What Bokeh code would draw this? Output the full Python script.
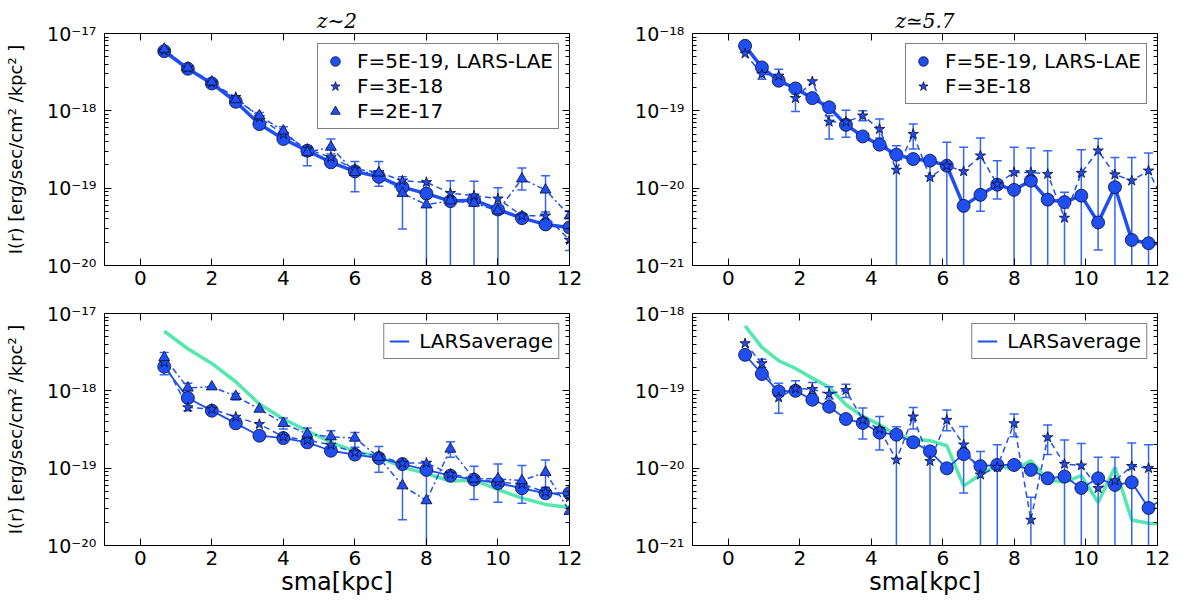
from bokeh.embed import file_html
from bokeh.layouts import column, row
from bokeh.models import (ColumnDataSource, CustomJSTickFormatter, FixedTicker, Legend,
                          LegendItem, LinearAxis, LogAxis, Range1d, SingleIntervalTicker)
from bokeh.plotting import figure
from bokeh.resources import INLINE

# radii (sma, kpc)
sma_z2 = [0.67, 1.33, 2.0, 2.67, 3.33, 4.0, 4.67, 5.33, 6.0, 6.67, 7.33, 8.0,
          8.67, 9.33, 10.0, 10.67, 11.33, 12.0]
sma_z57 = [0.47, 0.94, 1.41, 1.88, 2.35, 2.82, 3.29, 3.76, 4.23, 4.70, 5.17, 5.64,
           6.11, 6.58, 7.05, 7.52, 7.99, 8.46, 8.93, 9.40, 9.87, 10.34, 10.81, 11.28,
           11.75, 12.22]

# z~2, top panel
lae_z2 = [5.9e-18, 3.5e-18, 2.26e-18, 1.31e-18, 6.75e-19, 4.32e-19, 3.05e-19, 2.16e-19,
          1.65e-19, 1.4e-19, 1.03e-19, 8.5e-20, 6.8e-20, 7.0e-20, 5.3e-20, 4.1e-20,
          3.4e-20, 3.1e-20]
f3_z2 = [6.0e-18, 3.6e-18, 2.3e-18, 1.5e-18, 8.2e-19, 5.0e-19, 3.2e-19, 2.5e-19,
         1.77e-19, 1.6e-19, 1.25e-19, 1.19e-19, 8.6e-20, 8.0e-20, 7.3e-20, 4.4e-20,
         4.4e-20, 2.14e-20]
f2_z2 = [6.3e-18, 3.6e-18, 2.37e-18, 1.4e-18, 8.65e-19, 5.5e-19, 2.9e-19, 3.4e-19,
         1.6e-19, 1.58e-19, 8.6e-20, 6.1e-20, 6.9e-20, 6.4e-20, 5.1e-20, 1.32e-19,
         9.5e-20, 4.4e-20]
err_x_z2 = [3.33, 4.0, 4.67, 5.33, 6.0, 6.67, 7.33, 8.0, 8.67, 9.33, 10.0, 10.67, 11.33, 12.0]
err_lo_z2 = [7.45e-19, 4.77e-19, 1.95e-19, 2.77e-19, 9.0e-20, 1.06e-19, 2.97e-20, 0, 0, 0, 0,
             9.5e-20, 4.9e-20, 1.56e-20]
err_hi_z2 = [9.55e-19, 6.24e-19, 3.54e-19, 4.32e-19, 2.22e-19, 2.22e-19, 1.41e-19, 1.21e-19,
             1.25e-19, 1.23e-19, 1.01e-19, 1.82e-19, 1.45e-19, 5.1e-20]

# z~5.7, top panel
lae_z57 = [6.93e-19, 3.64e-19, 2.45e-19, 1.95e-19, 1.46e-19, 1.11e-19, 6.6e-20, 4.67e-20,
           3.65e-20, 2.71e-20, 2.38e-20, 2.27e-20, 1.95e-20, 5.9e-21, 8.2e-21, 1.11e-20,
           9.5e-21, 1.25e-20, 7.1e-21, 6.6e-21, 8.0e-21, 3.6e-21, 1.03e-20, 2.14e-21,
           1.94e-21, 1.9e-21]
f3_z57 = [5.5e-19, 2.98e-19, 2.84e-19, 1.46e-19, 2.4e-19, 7.2e-20, 7.2e-20, 8.65e-20,
          5.8e-20, 1.72e-20, 5.0e-20, 1.38e-20, 1.95e-20, 1.65e-20, 2.63e-20, 1.13e-20,
          1.6e-20, 1.6e-20, 1.52e-20, 4.12e-21, 1.57e-20, 3.05e-20, 1.5e-20, 1.25e-20,
          1.68e-20, 6.0e-21]
err_x_z57 = [0.94, 1.41, 1.88, 2.82, 3.29, 3.76, 4.23, 4.70, 5.17, 5.64, 6.11, 6.58, 7.05,
             7.52, 7.99, 8.46, 8.93, 9.40, 9.87, 10.34, 10.81, 11.28, 11.75]
err_lo_z57 = [2.57e-19, 2.33e-19, 9.84e-20, 4.32e-20, 4.54e-20, 7.45e-20, 4.45e-20, 0, 3.2e-20,
              0, 0, 0, 5.02e-21, 7.26e-21, 0, 0, 0, 0, 0, 1.59e-21, 0, 0, 0]
err_hi_z57 = [4.02e-19, 3.46e-19, 2.01e-19, 8.65e-20, 1.02e-19, 1.0e-19, 7.83e-20, 3.54e-20,
              6.75e-20, 2.38e-20, 3.91e-20, 3.37e-20, 4.45e-20, 2.27e-20, 3.37e-20, 3.3e-20,
              3.05e-20, 8.85e-21, 3.15e-20, 4.4e-20, 2.5e-20, 2.5e-20, 2.85e-20]

# z~2, LARS average panel
avg_lae_z2 = [2.05e-18, 8.07e-19, 5.54e-19, 3.8e-19, 2.63e-19, 2.45e-19, 2.16e-19, 1.68e-19,
              1.5e-19, 1.35e-19, 1.13e-19, 9.5e-20, 8.0e-20, 7.1e-20, 6.4e-20, 5.5e-20,
              4.73e-20, 4.75e-20]
avg_f3_z2 = [2.33e-18, 6.1e-19, 5.8e-19, 4.6e-19, 3.7e-19, 2.55e-19, 2.31e-19, 2.0e-19,
             1.6e-19, 1.45e-19, 1.16e-19, 1.17e-19, 8.4e-20, 7.3e-20, 6.6e-20, 6.25e-20,
             4.9e-20, 4.2e-20]
avg_f2_z2 = [2.7e-18, 1.09e-18, 1.13e-18, 8.5e-19, 5.8e-19, 3.8e-19, 2.77e-19, 2.55e-19,
             2.45e-19, 1.38e-19, 5.94e-20, 3.81e-20, 1.77e-19, 7.3e-20, 7.3e-20, 6.9e-20,
             8.85e-20, 2.77e-20]
avg_err_x_z2 = [0.67, 1.33, 2.67, 4.0, 4.67, 5.33, 6.0, 6.67, 7.33, 8.0, 8.67, 9.33, 10.0,
                10.67, 11.33]
avg_err_lo_z2 = [1.61e-18, 5.54e-19, 7.6e-19, 3.2e-19, 2.16e-19, 1.86e-19, 1.86e-19, 8.85e-20,
                 2.16e-20, 0, 1.38e-19, 3.93e-20, 3.62e-20, 3.52e-20, 5.66e-20]
avg_err_hi_z2 = [3.13e-18, 1.25e-18, 9.27e-19, 4.45e-19, 3.3e-19, 3.05e-19, 2.9e-19, 1.91e-19,
                 1.25e-19, 1.16e-19, 2.2e-19, 1.06e-19, 1.13e-19, 1.08e-19, 1.28e-19]

# z~5.7, LARS average panel
avg_lae_z57 = [2.92e-19, 1.65e-19, 9.84e-20, 1.0e-19, 7.67e-20, 6.23e-20, 4.32e-20, 3.84e-20,
               2.88e-20, 2.71e-20, 2.16e-20, 1.65e-20, 9.96e-21, 1.52e-20, 1.06e-20, 1.1e-20,
               1.1e-20, 9.5e-21, 7.4e-21, 7.8e-21, 5.55e-21, 7.4e-21, 6.07e-21, 6.56e-21,
               3.06e-21, 4.2e-21]
avg_f3_z57 = [4.1e-19, 2.26e-19, 8.2e-20, 1.07e-19, 1.05e-19, 9.1e-20, 1.02e-19, 4.19e-20,
              3.2e-20, 1.28e-20, 4.63e-20, 1.23e-20, 4.19e-20, 2.01e-20, 8.24e-21, 1.03e-20,
              3.79e-20, 2.14e-21, 2.5e-20, 1.13e-20, 1.08e-20, 5.5e-21, 6.9e-21, 1.06e-20,
              1.0e-20]
avg_err_x_z57 = [0.94, 1.41, 1.88, 2.35, 2.82, 3.29, 3.76, 4.23, 4.70, 5.17, 5.64, 6.11, 6.58,
                 7.05, 7.52, 7.99, 8.46, 8.93, 9.40, 9.87, 10.34, 10.81, 11.28, 11.75]
avg_err_lo_z57 = [2.01e-19, 5.12e-20, 9.55e-20, 9.08e-20, 7.83e-20, 8.22e-20, 2.38e-20, 1.72e-20,
                  0, 3.2e-20, 0, 3.05e-20, 4.78e-21, 0, 0, 2.55e-20, 0, 1.5e-20, 0, 0, 0, 0,
                  0, 0]
avg_err_hi_z57 = [2.57e-19, 1.25e-19, 1.35e-19, 1.28e-19, 1.13e-19, 1.22e-19, 5.98e-20,
                  4.67e-20, 3.44e-20, 6.11e-20, 1.6e-20, 5.65e-20, 3.47e-20, 1.64e-20, 2.01e-20,
                  5.01e-20, 4.2e-21, 3.61e-20, 2.31e-20, 2.09e-20, 1.38e-20, 1.38e-20, 2.11e-20,
                  2.01e-20]

BLUE = "#1f4ff0"
ERR = "#3566ee"
GREEN = "#55e8ae"
FONT = "DejaVu Sans"

SUP = """
const e = Math.round(Math.log10(tick));
const m = {'-': '\u207b', '0': '\u2070', '1': '\u00b9', '2': '\u00b2', '3': '\u00b3',
           '4': '\u2074', '5': '\u2075', '6': '\u2076', '7': '\u2077', '8': '\u2078',
           '9': '\u2079'};
return '10' + String(e).split('').map(c => m[c]).join('');
"""


def style_ticks(ax):
    ax.major_tick_in = 7
    ax.major_tick_out = 0
    ax.minor_tick_in = 4
    ax.minor_tick_out = 0
    ax.major_tick_line_color = "black"
    ax.minor_tick_line_color = "black"
    ax.axis_line_color = "black"
    ax.major_label_text_color = "black"


def make_panel(width, height, borders, e_lo, title=None, xlabel=None, ylabel=None):
    left, right, top, bottom = borders
    p = figure(width=width, height=height, x_range=Range1d(-1, 12),
               y_range=Range1d(10.0 ** e_lo, 10.0 ** (e_lo + 3)), y_axis_type="log",
               output_backend="svg", toolbar_location=None,
               min_border_left=left, min_border_right=right,
               min_border_top=top, min_border_bottom=bottom)
    p.grid.visible = False
    p.outline_line_color = "black"
    p.outline_line_width = 1
    p.background_fill_color = "white"

    yt = FixedTicker(ticks=[10.0 ** e for e in range(e_lo, e_lo + 4)],
                     minor_ticks=[m * 10.0 ** e for e in range(e_lo, e_lo + 3) for m in range(2, 10)])
    xt = SingleIntervalTicker(interval=2, num_minor_ticks=0)

    p.yaxis.ticker = yt
    p.yaxis.formatter = CustomJSTickFormatter(code=SUP)
    p.yaxis.major_label_text_font = FONT
    p.yaxis.major_label_text_font_size = "19px"
    p.yaxis.major_label_standoff = 8
    style_ticks(p.yaxis[0])

    p.xaxis.ticker = xt
    p.xaxis.major_label_text_font = FONT
    p.xaxis.major_label_text_font_size = "20px"
    p.xaxis.major_label_standoff = 5
    style_ticks(p.xaxis[0])
    p.xaxis.minor_tick_line_color = None

    if ylabel:
        p.yaxis.axis_label = ylabel
        p.yaxis.axis_label_text_font = FONT
        p.yaxis.axis_label_text_font_size = "18px"
        p.yaxis.axis_label_text_font_style = "normal"
        p.yaxis.axis_label_text_color = "black"
        p.yaxis.axis_label_standoff = 18
    if xlabel:
        p.xaxis.axis_label = xlabel
        p.xaxis.axis_label_text_font = FONT
        p.xaxis.axis_label_text_font_size = "24px"
        p.xaxis.axis_label_text_font_style = "normal"
        p.xaxis.axis_label_text_color = "black"
        p.xaxis.axis_label_standoff = 0

    # tick marks on the right and top sides, no labels
    ax_r = LogAxis(ticker=yt)
    style_ticks(ax_r)
    ax_r.major_label_text_font_size = "1px"
    ax_r.major_label_text_alpha = 0
    ax_r.major_label_standoff = 0
    p.add_layout(ax_r, "right")
    ax_t = LinearAxis(ticker=xt)
    style_ticks(ax_t)
    ax_t.major_label_text_font_size = "1px"
    ax_t.major_label_text_alpha = 0
    ax_t.major_label_standoff = 0
    ax_t.minor_tick_line_color = None
    p.add_layout(ax_t, "above")

    if title:
        p.title.text = title
        p.title.align = "center"
        p.title.text_font = "DejaVu Serif"
        p.title.text_font_style = "italic"
        p.title.text_font_size = "20px"
        p.title.text_color = "black"
        p.title.standoff = 2
    return p


def draw_errors(p, xs, lo, hi, floor):
    src = ColumnDataSource(dict(x=xs, lo=[v if v > 0 else floor for v in lo], hi=hi))
    p.segment(x0="x", y0="lo", x1="x", y1="hi", source=src, line_color=ERR, line_width=1.5)
    p.scatter(x="x", y="hi", source=src, marker="dash", size=9, line_color=ERR, line_width=1.5)
    caps = [(x, v) for x, v in zip(xs, lo) if v > 0]
    p.scatter(x=[c[0] for c in caps], y=[c[1] for c in caps], marker="dash", size=9,
              line_color=ERR, line_width=1.5)


def draw_series(p, xs, ys, marker, size, dash, lw):
    ln = p.line(xs, ys, line_color=BLUE, line_width=lw, line_dash=dash)
    mk = p.scatter(xs, ys, marker=marker, size=size, fill_color=BLUE,
                   line_color="#0a0a30", line_width=0.8)
    return ln, mk


def add_legend(p, items, glyph_h, glyph_w):
    leg = Legend(items=[LegendItem(label=t, renderers=[r]) for t, r in items],
                 location="top_right")
    leg.label_text_font = FONT
    leg.label_text_font_size = "20px"
    leg.label_text_color = "black"
    leg.border_line_color = "black"
    leg.border_line_width = 1.5
    leg.margin = 10
    leg.padding = 5
    leg.spacing = 1
    leg.glyph_height = glyph_h
    leg.glyph_width = glyph_w
    leg.label_height = glyph_h
    leg.label_standoff = 10
    leg.background_fill_alpha = 1
    p.add_layout(leg)


YLABEL = "I(r) [erg/sec/cm\u00b2 /kpc\u00b2 ]"
DASH = "6 4"
DASHDOT = "6 3 2 3"
FLOOR = 1e-24

# top left: z~2
p1 = make_panel(589, 301, (104, 20, 33, 36), -20, title="z\u223c2", ylabel=YLABEL)
draw_errors(p1, err_x_z2, err_lo_z2, err_hi_z2, FLOOR)
_, c1 = draw_series(p1, sma_z2, lae_z2, "circle", 13, "solid", 3.5)
_, s1 = draw_series(p1, sma_z2, f3_z2, "star", 11, DASH, 1.5)
_, t1 = draw_series(p1, sma_z2, f2_z2, "triangle", 11, DASHDOT, 1.5)
add_legend(p1, [("F=5E-19, LARS-LAE", c1), ("F=3E-18", s1), ("F=2E-17", t1)], 24, 24)

# top right: z~5.7
p2 = make_panel(598, 301, (103, 30, 33, 36), -21, title="z\u22435.7")
draw_errors(p2, err_x_z57, err_lo_z57, err_hi_z57, FLOOR)
_, c2 = draw_series(p2, sma_z57, lae_z57, "circle", 13, "solid", 3.5)
_, s2 = draw_series(p2, sma_z57, f3_z57, "star", 11, DASH, 1.5)
add_legend(p2, [("F=5E-19, LARS-LAE", c2), ("F=3E-18", s2)], 24, 24)

# bottom left: z~2 with LARS average
p3 = make_panel(589, 302, (104, 20, 12, 58), -20, xlabel="sma[kpc]", ylabel=YLABEL)
p3.line(sma_z2, lae_z2, line_color=GREEN, line_width=3.5)
draw_errors(p3, avg_err_x_z2, avg_err_lo_z2, avg_err_hi_z2, FLOOR)
l3, _ = draw_series(p3, sma_z2, avg_lae_z2, "circle", 13, "solid", 1.8)
draw_series(p3, sma_z2, avg_f3_z2, "star", 11, DASH, 1.5)
draw_series(p3, sma_z2, avg_f2_z2, "triangle", 11, DASHDOT, 1.5)
add_legend(p3, [("LARSaverage", l3)], 22, 20)

# bottom right: z~5.7 with LARS average
p4 = make_panel(598, 302, (103, 30, 12, 58), -21, xlabel="sma[kpc]")
p4.line(sma_z57, lae_z57, line_color=GREEN, line_width=3.5)
draw_errors(p4, avg_err_x_z57, avg_err_lo_z57, avg_err_hi_z57, FLOOR)
l4, _ = draw_series(p4, sma_z57, avg_lae_z57, "circle", 13, "solid", 1.8)
draw_series(p4, sma_z57[:25], avg_f3_z57, "star", 11, DASH, 1.5)
add_legend(p4, [("LARSaverage", l4)], 22, 20)

layout = column(row(p1, p2), row(p3, p4))
open("out.html", "w").write(file_html(layout, INLINE))
